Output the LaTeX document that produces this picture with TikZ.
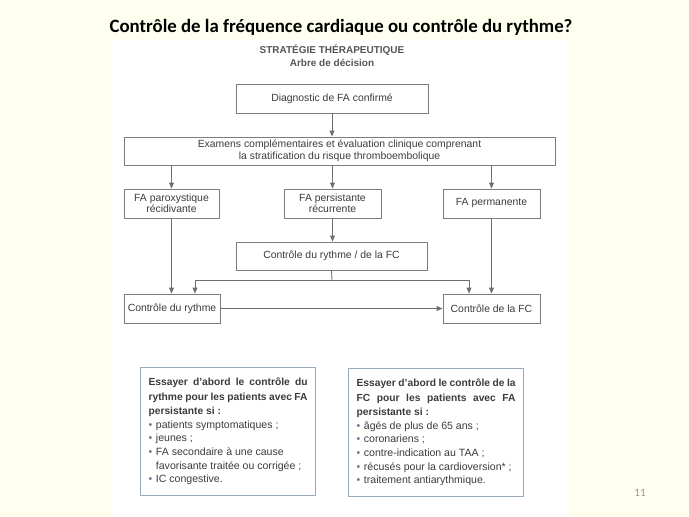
\documentclass[tikz,border=0pt]{standalone}
\usepackage{fontspec}
\setmainfont{Liberation Sans}
\newfontfamily\titlefont{Carlito}
\usetikzlibrary{arrows.meta}

\definecolor{slidebg}{HTML}{FFFFF0}
\definecolor{linegray}{HTML}{6E6E6E}
\definecolor{boxgray}{HTML}{7C7C7C}
\definecolor{txtgray}{HTML}{3C3C3C}
\definecolor{subgray}{HTML}{555555}
\definecolor{pagegray}{HTML}{9A9A9A}
\definecolor{noteblue}{HTML}{9AAAB8}
\definecolor{dotblue}{HTML}{5F7F9F}

% bullet line with hanging indent
\newcommand{\itm}[1]{\par\noindent\hangindent=0.7em\hangafter=1\makebox[0.7em][l]{\textcolor{dotblue}{\textbullet}}#1}

\begin{document}
\begin{tikzpicture}[x=0.025cm,y=-0.025cm,
  box/.style={draw=boxgray,line width=0.6pt,fill=white,inner sep=0pt,align=center,
    text=txtgray,font=\fontsize{7.4}{8.2}\selectfont},
  note/.style={draw=noteblue,line width=0.8pt,fill=white,anchor=north west,
    text width=3.975cm,inner xsep=0.2cm,inner ysep=0pt,minimum height=3.2cm,
    align=justify,text=txtgray},
  arr/.style={draw=linegray,line width=0.6pt,-{Triangle[length=4.2pt,width=3.4pt]}},
  line/.style={draw=linegray,line width=0.6pt}]

\useasboundingbox (0,0) rectangle (689,517);
\fill[slidebg] (0,0) rectangle (689,517);
\fill[white] (112,40) rectangle (568,517);

%title
\node[font=\titlefont\bfseries\fontsize{13.4}{15}\selectfont] (title) at (341,27) {Contrôle de la fréquence cardiaque ou contrôle du rythme?};
\node[font=\bfseries\fontsize{7.1}{9.2}\selectfont,text=subgray,align=center] (head) at (332,55.5) {STRATÉGIE THÉRAPEUTIQUE\\Arbre de décision};

%boxes
\node[box,minimum width=4.8cm,minimum height=0.725cm] (diag) at (332,98.5) {Diagnostic de FA confirmé};
\node[box,minimum width=10.775cm,minimum height=0.7cm] (exam) at (339.5,151) {Examens complémentaires et évaluation clinique comprenant\\la stratification du risque thromboembolique};
\node[box,minimum width=2.375cm,minimum height=0.725cm] (parox) at (171.5,203.5) {FA paroxystique\\récidivante};
\node[box,minimum width=2.425cm,minimum height=0.725cm] (persist) at (332.5,203.5) {FA persistante\\récurrente};
\node[box,minimum width=2.425cm,minimum height=0.725cm] (perm) at (491.5,203.5) {FA permanente};
\node[box,minimum width=4.775cm,minimum height=0.7cm] (ctrlboth) at (331.5,256) {Contrôle du rythme / de la FC};
\node[box,minimum width=2.4cm,minimum height=0.725cm] (rythme) at (172,308.5) {Contrôle du rythme};
\node[box,minimum width=2.425cm,minimum height=0.725cm] (fc) at (491.5,308.5) {Contrôle de la FC};

%connectors
\draw[arr] (diag.south) -- (diag.south |- exam.north);
\draw[arr] (parox.north |- exam.south) -- (parox.north);
\draw[arr] (persist.north |- exam.south) -- (persist.north);
\draw[arr] (perm.north |- exam.south) -- (perm.north);
\draw[arr] (persist.south) -- (persist.south |- ctrlboth.north);
\coordinate (split) at (332,280);
\draw[line] (ctrlboth.south) -- (split);
\draw[arr] (split) -| ([xshift=0.575cm]rythme.north);
\draw[arr] (split) -| ([xshift=-0.5625cm]fc.north);
\draw[arr] (parox.south) -- (parox.south |- rythme.north);
\draw[arr] (perm.south) -- (perm.south |- fc.north);
\draw[arr] (rythme) -- (fc);

%notes
\node[note] (noteL) at (140,367) {%
  {\bfseries\fontsize{7.3}{10.3}\selectfont Essayer d'abord le contrôle du\linebreak rythme pour les patients avec FA\linebreak persistante si :\par}
  \fontsize{7.5}{9.7}\selectfont\raggedright
  \itm{patients symptomatiques ;}
  \itm{jeunes ;}
  \itm{FA secondaire à une cause\newline favorisante traitée ou corrigée ;}
  \itm{IC congestive.}\par};
\node[note] (noteR) at (348,368) {%
  {\bfseries\fontsize{7.3}{10.3}\selectfont Essayer d'abord le contrôle de la\linebreak FC pour les patients avec FA\linebreak persistante si :\par}
  \fontsize{7.5}{9.7}\selectfont\raggedright
  \itm{âgés de plus de 65 ans ;}
  \itm{coronariens ;}
  \itm{contre-indication au TAA ;}
  \itm{récusés pour la cardioversion*~;}
  \itm{traitement antiarythmique.}\par};

\node[font=\titlefont\fontsize{8}{9}\selectfont,text=pagegray] (pagenum) at (640,493) {11};
\end{tikzpicture}
\end{document}
